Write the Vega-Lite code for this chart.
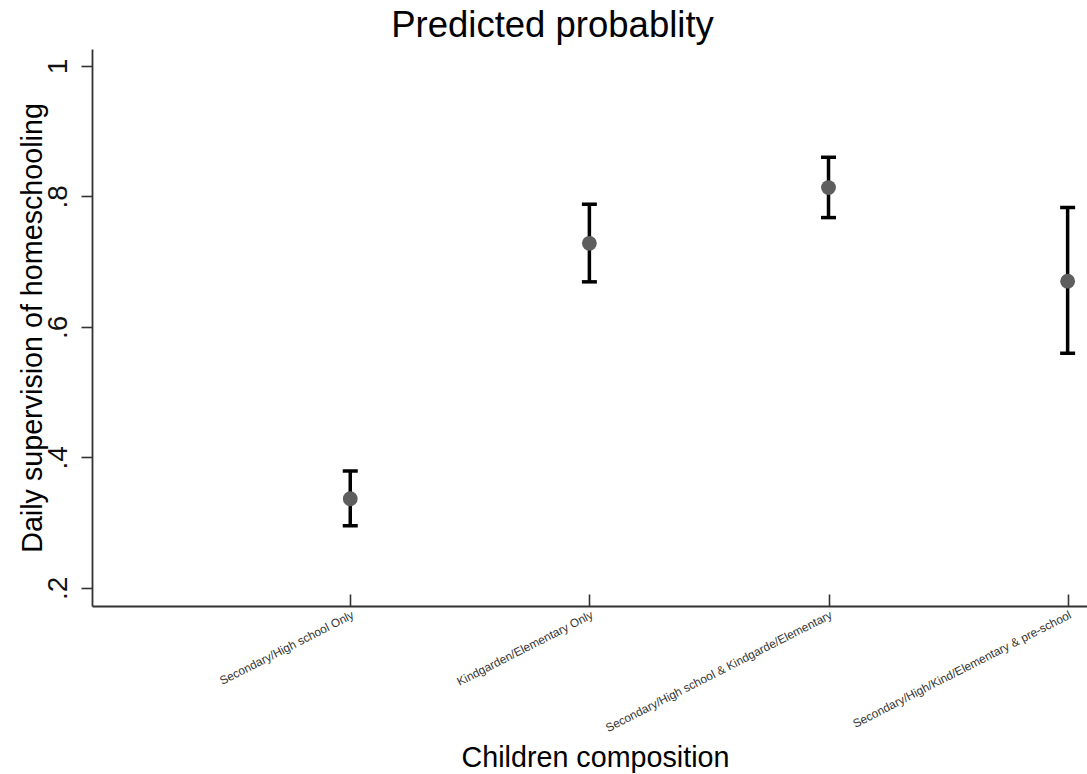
{
  "$schema": "https://vega.github.io/schema/vega-lite/v6.json",
  "width": 995,
  "height": 557,
  "autosize": {"type": "none"},
  "padding": {"left": 92, "top": 49, "right": 0, "bottom": 168},
  "background": "white",
  "config": {"view": {"stroke": null}, "font": "Liberation Sans"},
  "title": {"text": "Predicted probablity", "fontSize": 36.5, "fontWeight": "normal", "color": "black", "anchor": "middle", "frame": "group", "dx": -37, "offset": 5},
  "data": {"values": [
    {"group": 1, "margin": 0.3365, "lo": 0.295, "hi": 0.379},
    {"group": 2, "margin": 0.728, "lo": 0.669, "hi": 0.788},
    {"group": 3, "margin": 0.8135, "lo": 0.7675, "hi": 0.860},
    {"group": 4, "margin": 0.670, "lo": 0.5595, "hi": 0.783}
  ]},
  "encoding": {
    "x": {
      "field": "group", "type": "quantitative",
      "scale": {"domain": [-0.08, 4.081], "nice": false, "zero": false},
      "axis": {
        "values": [1, 2, 3, 4],
        "labelExpr": "datum.value == 1 ? 'Secondary/High school Only' : datum.value == 2 ? 'Kindgarden/Elementary Only' : datum.value == 3 ? 'Secondary/High school & Kindgarde/Elementary' : datum.value == 4 ? 'Secondary/High/Kind/Elementary & pre-school' : ''",
        "grid": false,
        "tickSize": -12, "tickWidth": 1.6, "tickColor": "#333333",
        "domainColor": "#333333", "domainWidth": 1.8,
        "labelAngle": -27, "labelAlign": "right", "labelBaseline": "top",
        "labelFontSize": 11.8, "labelColor": "#333333", "labelPadding": 15, "labelLimit": 0,
        "labelFlush": false, "labelOverlap": false, "labelBound": false,
        "title": "Children composition", "titleFontSize": 28.7, "titleFontWeight": "normal", "titleColor": "black",
        "titleX": 503, "titleY": 160.7, "titleAlign": "center", "titleBaseline": "alphabetic"
      }
    }
  },
  "layer": [
    {
      "mark": {"type": "rule", "color": "black", "strokeWidth": 3.5},
      "encoding": {
        "y": {
          "field": "lo", "type": "quantitative", "title": "Daily supervision of homeschooling",
          "scale": {"domain": [0.172, 1.026], "nice": false, "zero": false},
          "axis": {
            "values": [0.2, 0.4, 0.6, 0.8, 1],
            "labelExpr": "datum.value == 1 ? '1' : replace(format(datum.value, '.1f'), '0.', '.')",
            "grid": false,
            "tickSize": 11, "tickWidth": 1.6, "tickColor": "#333333",
            "domainColor": "#333333", "domainWidth": 1.8,
            "labelAngle": -90, "labelAlign": "center", "labelBaseline": "alphabetic",
            "labelFontSize": 28, "labelColor": "#111111", "labelPadding": 15,
            "labelFlush": false, "labelOverlap": false, "labelBound": false,
            "titleFontSize": 28.7, "titleFontWeight": "normal", "titleColor": "black",
            "titleX": -50.3, "titleBaseline": "alphabetic", "titleAngle": -90
          }
        },
        "y2": {"field": "hi"}
      }
    },
    {
      "mark": {"type": "tick", "orient": "horizontal", "color": "black", "thickness": 3.5, "size": 15, "opacity": 1},
      "encoding": {"y": {"field": "lo", "type": "quantitative", "title": "Daily supervision of homeschooling"}}
    },
    {
      "mark": {"type": "tick", "orient": "horizontal", "color": "black", "thickness": 3.5, "size": 15, "opacity": 1},
      "encoding": {"y": {"field": "hi", "type": "quantitative", "title": "Daily supervision of homeschooling"}}
    },
    {
      "mark": {"type": "point", "filled": true, "color": "#5e5e5e", "size": 220, "opacity": 1, "strokeWidth": 0},
      "encoding": {"y": {"field": "margin", "type": "quantitative", "title": "Daily supervision of homeschooling"}}
    }
  ]
}
